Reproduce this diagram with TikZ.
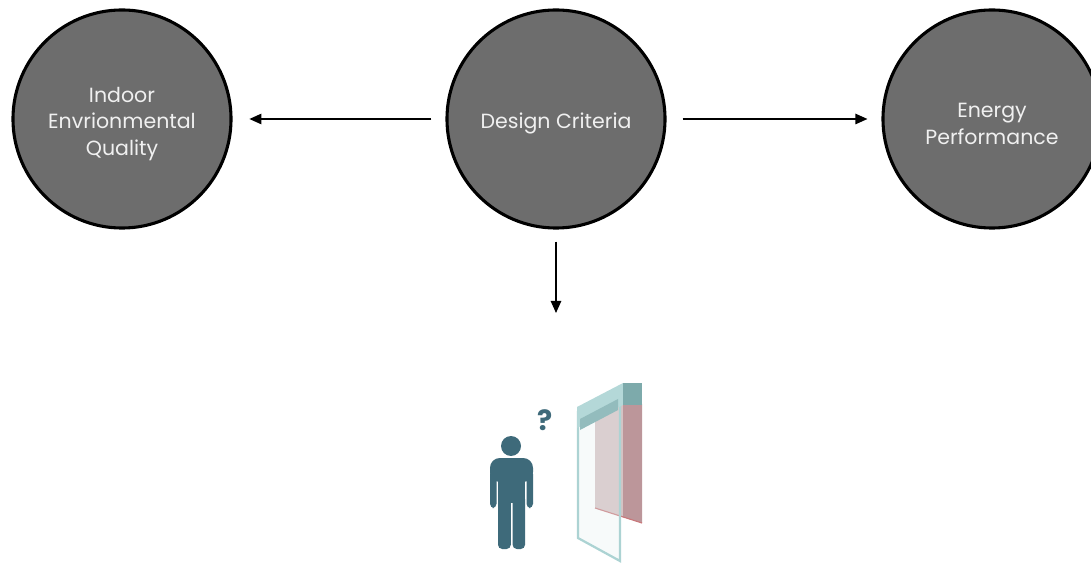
\documentclass[tikz,border=0pt]{standalone}
\usepackage{fontspec}
\setmainfont{Poppins}
\usetikzlibrary{arrows.meta}

\definecolor{critgray}{RGB}{109,109,109}
\definecolor{crittext}{RGB}{240,240,240}
\definecolor{occteal}{RGB}{62,106,122}
\definecolor{panelight}{RGB}{228,240,240}
\definecolor{paneedge}{RGB}{172,211,211}
\definecolor{headlight}{RGB}{180,216,216}
\definecolor{headdark}{RGB}{125,170,171}
\definecolor{pinklight}{RGB}{214,194,195}
\definecolor{pinkdark}{RGB}{188,150,154}

\tikzset{
  crit/.style={circle, draw=black, line width=2.2pt, fill=critgray,
    minimum size=5.45cm},
  critlabel/.style={align=center, text=crittext, yshift=-0.12cm,
    font=\fontsize{14.6}{19}\selectfont},
  flow/.style={line width=1pt, -{Triangle[length=0.3cm,width=0.26cm]}},
  occupant/.style={fill=occteal}
}

\begin{document}
\begin{tikzpicture}[x=0.025cm, y=-0.025cm]

  \useasboundingbox (0,0) rectangle (1091,563);

  \foreach \n/\x/\t in {ieq/122/{Indoor\\Envrionmental\\Quality}, dc/556/{Design Criteria}, ep/992/{Energy\\Performance}}
    \node [crit, label={[critlabel]center:\t}] (\n) at (\x,119) {};

  \coordinate (occ) at (556,313);

  \draw [flow, shorten <=0.35cm, shorten >=0.42cm] (dc) -- (ieq);
  \draw [flow, shorten <=0.4cm, shorten >=0.35cm] (dc) -- (ep);
  \draw [flow, shorten <=0.3cm] (dc) -- (occ);

  % occupant
  \fill [occupant] (511,446) circle (10);
  \fill [occupant, rounded corners=7] (490,458) rectangle (533,482);
  \fill [occupant, rounded corners=3] (490,470) rectangle (496.5,508);
  \fill [occupant, rounded corners=3] (526.5,470) rectangle (533,508);
  \fill [occupant] (498,465) rectangle (525,503);
  \fill [occupant, rounded corners=3] (498,495) rectangle (510.8,549);
  \fill [occupant, rounded corners=3] (512.6,495) rectangle (525,549);
  \node [text=occteal, font=\bfseries\fontsize{20}{20}\selectfont, inner sep=0pt] (ask) at (545,420) {?};

  % window
  \fill [pinklight] (595,420) -- (623,404) -- (623,517) -- (595,508) -- cycle;
  \fill [pinkdark] (623,404) -- (642,404) -- (642,523) -- (623,517) -- cycle;
  \draw [pinkdark!80!red, line width=0.8pt] (595,508) -- (642,523);
  \fill [panelight, fill opacity=0.3, draw=paneedge, line width=1.6pt, draw opacity=1]
    (578,412) -- (578,538) -- (620,561) -- (620,395) -- cycle;
  \fill [headlight] (577,407) -- (623,383) -- (623,405) -- (577,428) -- cycle;
  \fill [headdark!60!headlight] (580,419) -- (618,399) -- (618,410) -- (580,430) -- cycle;
  \fill [headdark] (623,383) -- (642,383) -- (642,405) -- (623,405) -- cycle;

\end{tikzpicture}
\end{document}
